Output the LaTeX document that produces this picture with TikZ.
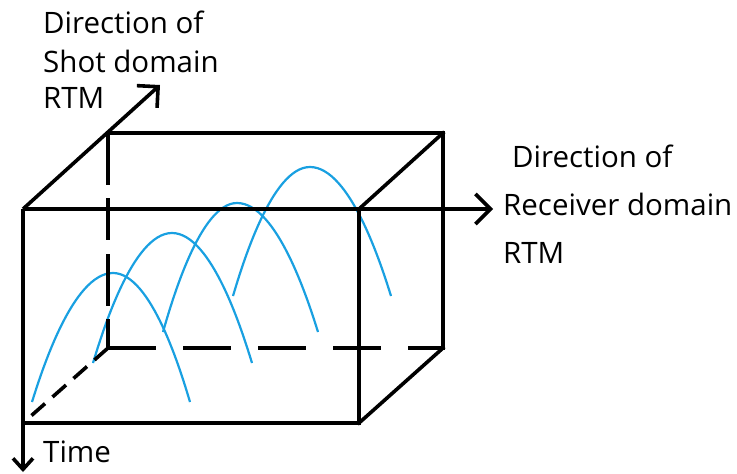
\documentclass[tikz,border=0pt]{standalone}
\usepackage{fontspec}
\setmainfont{Open Sans}
\usetikzlibrary{arrows.meta}
\definecolor{wave}{RGB}{25,160,225}
\tikzset{
  edge/.style={line width=3.6pt, line cap=rect},
  dashedge/.style={line width=3.6pt, dash pattern=on 48pt off 27pt},
  axis/.style={line width=3.6pt, -{Straight Barb[length=15pt,width=30pt,line width=3.6pt]}},
  waveline/.style={wave, line width=2.2pt},
  lbl/.style={anchor=base west, inner sep=0pt, font=\fontsize{29.5}{34}\selectfont}
}
\begin{document}
\begin{tikzpicture}[x=1pt,y=-1pt]
\useasboundingbox (0,0) rectangle (737,474);
% corners
\coordinate (FTL) at (23,209);
\coordinate (FTR) at (359,209);
\coordinate (FBL) at (23,423);
\coordinate (FBR) at (359,423);
\coordinate (BTL) at (108,133);
\coordinate (BTR) at (443,133);
\coordinate (BBL) at (108,348);
\coordinate (BBR) at (443,348);
\coordinate (shotend) at (160,85);
\coordinate (recend) at (493,209);
\coordinate (timeend) at (23,472);
% waves
\draw[waveline] (32,402) parabola bend (113,273) (190,402);
\draw[waveline] (93,363) parabola bend (172,233) (252,363);
\draw[waveline] (163,332) parabola bend (237,203) (318,332);
\draw[waveline] (233,296) parabola bend (310,167) (391,296);
% hidden edges
\draw[line width=3.6pt, dash pattern=on 52pt off 13pt on 42pt off 14pt] (BTL) -- (BBL);
\draw[dashedge] (BBL) -- (BBR);
\draw[line width=3.6pt, dash pattern=on 18pt off 10pt] (BBL) -- (FBL);
% visible edges
\draw[edge] (BTL) -- (BTR) -- (BBR);
\draw[edge] (FBL) -- (FBR) -- (FTR);
\draw[edge] (FTR) -- (BTR);
\draw[edge] (FBR) -- (BBR);
% axes
\draw[axis] (FTL) -- (shotend);
\draw[axis] (FTL) -- (recend);
\draw[line width=3.6pt, -{Straight Barb[length=11pt,width=20pt,line width=3.6pt]}] (FTL) -- (timeend);
% labels
\node[lbl] (s1) at (43,33) {Direction of};
\node[lbl] (s2) at (43,72) {Shot domain};
\node[lbl] (s3) at (43,108) {RTM};
\node[lbl] (r1) at (512,167) {Direction of};
\node[lbl] (r2) at (503,215) {Receiver domain};
\node[lbl] (r3) at (503,263) {RTM};
\node[lbl] (t1) at (43,462) {Time};
\end{tikzpicture}
\end{document}
